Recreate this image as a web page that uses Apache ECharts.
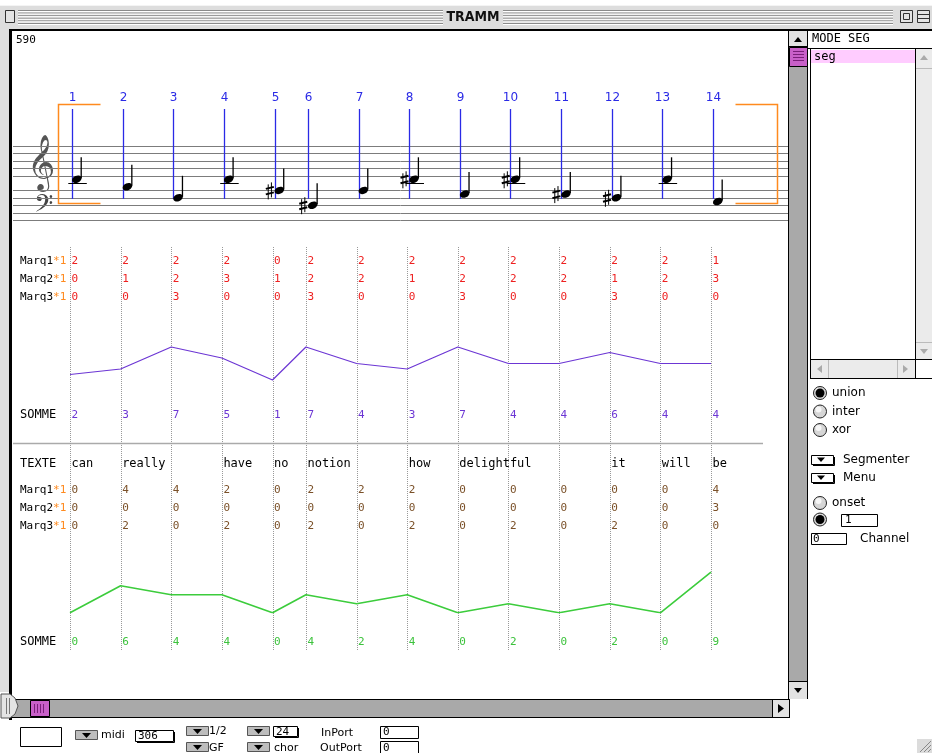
<!DOCTYPE html>
<html><head><meta charset="utf-8">
<script src="https://cdn.jsdelivr.net/npm/echarts/dist/echarts.min.js"></script>
<style>html,body{margin:0;padding:0;background:#fff;overflow:hidden}#c{width:932px;height:753px}</style>
</head><body><div id="c"></div>
<script>
// ================= DATA =================
const columnLabels = ['1','2','3','4','5','6','7','8','9','10','11','12','13','14'];
const onsets = [0, 1, 2, 3, 4, 4.66, 5.66, 6.66, 7.66, 8.66, 9.66, 10.66, 11.66, 12.66];
const noteSteps = [1, -1, -4, 1, -2, -6, -2, 1, -3, 1, -3, -4, 1, -5];
const noteSharps = [0, 0, 0, 0, 1, 1, 0, 1, 0, 1, 1, 1, 0, 0];
const segmentBounds = [-0.24, 13.96];
const marqLabels = ['Marq1', 'Marq2', 'Marq3'];
const marq1Pitch = [2, 2, 2, 2, 0, 2, 2, 2, 2, 2, 2, 2, 2, 1];
const marq2Pitch = [0, 1, 2, 3, 1, 2, 2, 1, 2, 2, 2, 1, 2, 3];
const marq3Pitch = [0, 0, 3, 0, 0, 3, 0, 0, 3, 0, 0, 3, 0, 0];
const sommePitch = [2, 3, 7, 5, 1, 7, 4, 3, 7, 4, 4, 6, 4, 4];
const words = ['can', 'really', '', 'have', 'no', 'notion', '', 'how', 'delightful', '', '', 'it', 'will', 'be'];
const marq1Text = [0, 4, 4, 2, 0, 2, 2, 2, 0, 0, 0, 0, 0, 4];
const marq2Text = [0, 0, 0, 0, 0, 0, 0, 0, 0, 0, 0, 0, 0, 3];
const marq3Text = [0, 2, 0, 2, 0, 2, 0, 2, 0, 2, 0, 2, 0, 0];
const sommeText = [0, 6, 4, 4, 0, 4, 2, 4, 0, 2, 0, 2, 0, 9];

// ================= LAYOUT / STYLE =================
const GL = 13, GW = 775, COL0 = 70, UNIT = 50.63;
const XMIN = -(COL0 - GL) / UNIT, XMAX = XMIN + GW / UNIT;
const MONO = '"DejaVu Sans Mono", "Liberation Mono", monospace';
const SANS = '"DejaVu Sans", "Liberation Sans", sans-serif';
const BLUE = '#2a2ae6', RED = '#ee2020', ORANGE = '#ff8a1e', PURPLE = '#6c36d4',
      BROWN = '#7a5028', GREEN = '#3ccc3c', GREENTXT = '#3cc23c';

const grids = [
  {top: 146, height: 74},      // 0 staff (steps -10..10)
  {top: 330.5, height: 55},    // 1 purple curve
  {top: 567.6, height: 45.2},  // 2 green curve
  {top: 247, height: 403},     // 3 dotted column guides
  {top: 252.5, height: 54},    // 4 Marq rows (pitch)
  {top: 407, height: 16},      // 5 SOMME (pitch)
  {top: 456, height: 16},      // 6 TEXTE
  {top: 480.5, height: 55},    // 7 Marq rows (text)
  {top: 634, height: 16}       // 8 SOMME (text)
].map(g => Object.assign({left: GL, width: GW}, g));

const xAxes = grids.map((g, i) => ({gridIndex: i, type: 'value', min: XMIN, max: XMAX, show: false}));
const hidden = {axisLine: {show: false}, axisTick: {show: false}, splitLine: {show: false}};
function catAxis(gi, data, fontSize, rich) {
  return Object.assign({gridIndex: gi, type: 'category', data, inverse: true, boundaryGap: true,
    axisLabel: {inside: true, margin: 7, color: '#000', fontFamily: MONO, fontSize,
      formatter: rich ? (v => '{n|' + v + '}{o|*1}') : null,
      rich: rich ? {n: {color: '#000', fontFamily: MONO, fontSize}, o: {color: ORANGE, fontFamily: MONO, fontSize}} : undefined}
  }, hidden);
}
const yAxes = [
  {gridIndex: 0, type: 'value', min: -10, max: 10, show: false},
  {gridIndex: 1, type: 'value', min: 0, max: 10, show: false},
  {gridIndex: 2, type: 'value', min: 0, max: 10, show: false},
  {gridIndex: 3, type: 'value', min: 0, max: 1, show: false},
  catAxis(4, marqLabels, 11, true),
  catAxis(5, ['SOMME'], 12, false),
  catAxis(6, ['TEXTE'], 12, false),
  catAxis(7, marqLabels, 11, true),
  catAxis(8, ['SOMME'], 12, false)
];

function textRow(gi, rowIndex, arr, color, font) {
  return {
    type: 'custom', xAxisIndex: gi, yAxisIndex: gi, silent: true, clip: false,
    data: onsets.map(o => [o, rowIndex]),
    renderItem(params, api) {
      const p = api.coord([api.value(0), api.value(1)]);
      return {type: 'text', x: p[0] + 1.5, y: p[1],
        style: {text: String(arr[params.dataIndex]), fill: color, font: font, align: 'left', verticalAlign: 'middle'}};
    }
  };
}

const series = [];
// staff lines
series.push({
  type: 'custom', xAxisIndex: 0, yAxisIndex: 0, silent: true, clip: false,
  data: [10, 8, 6, 4, 2, -2, -4, -6, -8, -10].map(s => [0, s]),
  renderItem(params, api) {
    const cs = params.coordSys;
    const y = Math.round(api.coord([0, api.value(1)])[1]) + 0.5;
    return {type: 'line', shape: {x1: cs.x, y1: y, x2: cs.x + cs.width, y2: y}, style: {stroke: '#7c7c7c', lineWidth: 1}};
  }
});
// segment brackets
series.push({
  type: 'custom', xAxisIndex: 0, yAxisIndex: 0, silent: true, clip: false,
  data: [[segmentBounds[0], segmentBounds[1]]],
  renderItem(params, api) {
    const lx = Math.round(api.coord([api.value(0), 0])[0]) + 0.5;
    const rx = Math.round(api.coord([api.value(1), 0])[0]) + 0.5;
    const ty = Math.round(api.coord([0, 21.4])[1]) + 0.5;
    const by = Math.round(api.coord([0, -5.4])[1]) + 0.5;
    const st = {stroke: ORANGE, lineWidth: 1.5, fill: null};
    return {type: 'group', children: [
      {type: 'polyline', shape: {points: [[lx + 42, ty], [lx, ty], [lx, by], [lx + 42, by]]}, style: st},
      {type: 'polyline', shape: {points: [[rx - 42, ty], [rx, ty], [rx, by], [rx - 42, by]]}, style: st}
    ]};
  }
});
// columns: blue markers, numbers, notes
series.push({
  type: 'custom', xAxisIndex: 0, yAxisIndex: 0, silent: true, clip: false,
  data: onsets.map((o, i) => [o, noteSteps[i]]),
  renderItem(params, api) {
    const i = params.dataIndex;
    const o = api.value(0), stp = api.value(1);
    const base = api.coord([o, stp]);
    const colX = Math.round(base[0] + 2) + 0.5;
    const hx = base[0] + 6.8, hy = base[1];
    const top = api.coord([o, 20])[1], bot = api.coord([o, -4.3])[1], lab = api.coord([o, 23])[1];
    const c0 = Math.round(api.coord([o, 0])[1]) + 0.5;
    const ch = [
      {type: 'line', shape: {x1: colX, y1: top, x2: colX, y2: bot}, style: {stroke: BLUE, lineWidth: 1.3}},
      {type: 'text', x: colX, y: lab, style: {text: columnLabels[i], fill: BLUE, font: '12px ' + SANS, align: 'center', verticalAlign: 'middle'}}
    ];
    if (stp >= 0) ch.push({type: 'line', shape: {x1: hx - 8.5, y1: c0, x2: hx + 10, y2: c0}, style: {stroke: '#000', lineWidth: 1}});
    ch.push({type: 'ellipse', x: hx, y: hy, rotation: 0.4, shape: {cx: 0, cy: 0, rx: 5, ry: 3.5}, style: {fill: '#000'}});
    ch.push({type: 'line', shape: {x1: hx + 4.4, y1: hy - 1, x2: hx + 4.4, y2: hy - 22}, style: {stroke: '#000', lineWidth: 1.3}});
    if (noteSharps[i]) {
      const sx = hx - 9.5;
      const s = {stroke: '#000', lineWidth: 1};
      ch.push({type: 'line', shape: {x1: sx - 1.6, y1: hy - 6, x2: sx - 1.6, y2: hy + 9}, style: s});
      ch.push({type: 'line', shape: {x1: sx + 1.6, y1: hy - 8, x2: sx + 1.6, y2: hy + 7}, style: s});
      ch.push({type: 'line', shape: {x1: sx - 4, y1: hy - 1.5, x2: sx + 4, y2: hy - 3.5}, style: {stroke: '#000', lineWidth: 2}});
      ch.push({type: 'line', shape: {x1: sx - 4, y1: hy + 4, x2: sx + 4, y2: hy + 2}, style: {stroke: '#000', lineWidth: 2}});
    }
    return {type: 'group', children: ch};
  }
});
// dotted column guides
series.push({
  type: 'custom', xAxisIndex: 3, yAxisIndex: 3, silent: true, clip: false,
  data: onsets.map(o => [o, 0]),
  renderItem(params, api) {
    const a = api.coord([api.value(0), 1]), b = api.coord([api.value(0), 0]);
    const x = Math.round(a[0]) + 0.5;
    return {type: 'line', shape: {x1: x, y1: a[1], x2: x, y2: b[1]}, style: {stroke: '#999', lineWidth: 1, lineDash: [1, 1]}};
  }
});
// curves
series.push({type: 'line', xAxisIndex: 1, yAxisIndex: 1, symbol: 'none', silent: true,
  data: onsets.map((o, i) => [o, sommePitch[i]]), lineStyle: {color: PURPLE, width: 1.2}});
series.push({type: 'line', xAxisIndex: 2, yAxisIndex: 2, symbol: 'none', silent: true,
  data: onsets.map((o, i) => [o, sommeText[i]]), lineStyle: {color: GREEN, width: 1.6}});
// text rows
const digitFont = '11px ' + MONO;
series.push(textRow(4, 0, marq1Pitch, RED, digitFont));
series.push(textRow(4, 1, marq2Pitch, RED, digitFont));
series.push(textRow(4, 2, marq3Pitch, RED, digitFont));
series.push(textRow(5, 0, sommePitch, PURPLE, digitFont));
series.push(textRow(6, 0, words, '#000', '12px ' + MONO));
series.push(textRow(7, 0, marq1Text, BROWN, digitFont));
series.push(textRow(7, 1, marq2Text, BROWN, digitFont));
series.push(textRow(7, 2, marq3Text, BROWN, digitFont));
series.push(textRow(8, 0, sommeText, GREENTXT, digitFont));

// ================= WINDOW CHROME (graphic) =================
const G = [];
function R(x, y, w, h, fill, stroke, lw, z) { G.push({type: 'rect', shape: {x, y, width: w, height: h}, style: {fill: fill || 'none', stroke: stroke || null, lineWidth: lw || 1}, silent: true, z: z || 0}); }
function L(x1, y1, x2, y2, c, w) { G.push({type: 'line', shape: {x1, y1, x2, y2}, style: {stroke: c, lineWidth: w || 1}, silent: true}); }
function T(x, y, s, font, fill, align) { G.push({type: 'text', x, y, style: {text: s, font, fill: fill || '#000', align: align || 'left', verticalAlign: 'middle', textAlign: align || 'left', textVerticalAlign: 'middle'}, silent: true}); }
function P(points, fill, stroke) { G.push({type: 'polygon', shape: {points}, style: {fill, stroke: stroke || null, lineWidth: 1}, silent: true}); }
function C(cx, cy, r, fill, stroke) { G.push({type: 'circle', shape: {cx, cy, r}, style: {fill, stroke: stroke || null, lineWidth: 1}, silent: true}); }

// background areas
R(0, 0, 932, 753, '#ffffff');
R(0, 5, 932, 24, '#dddddd');
L(0, 5.5, 932, 5.5, '#f4f4f4');
for (let k = 0; k < 6; k++) {
  const y = 10.5 + k * 2.6;
  L(18, y, 443, y, '#8a8a8a'); L(18, y + 1, 443, y + 1, '#ffffff');
  L(503, y, 893, y, '#8a8a8a'); L(503, y + 1, 893, y + 1, '#ffffff');
}
T(473, 17, 'TRAMM', 'bold 14px "DejaVu Sans Condensed", "Liberation Sans Narrow", ' + SANS, '#111', 'center');
R(5.5, 10.5, 9, 12, '#e4e4e4', '#333');
R(900.5, 10.5, 12, 12, '#e4e4e4', '#333'); R(903.5, 13.5, 6, 6, null, '#333');
R(917.5, 10.5, 12, 12, '#e4e4e4', '#333'); L(918, 14.5, 929, 14.5, '#333'); L(918, 18.5, 929, 18.5, '#333');

R(0, 29, 10, 663, '#dedede');
R(9, 29, 923, 2, '#000');
R(9, 30, 3, 690, '#000');

// vertical scrollbar
R(788, 31, 20, 668, '#a9a9a9');
L(788.5, 31, 788.5, 699, '#000'); L(807.5, 31, 807.5, 699, '#000');
R(789, 31, 18, 15, '#e2e2e2'); L(789, 46.5, 807, 46.5, '#000');
P([[794, 42], [802, 42], [798, 37]], '#000');
R(789.5, 47.5, 18, 19, '#c860c8', '#000');
for (let k = 0; k < 4; k++) L(793, 51.5 + k * 3, 804, 51.5 + k * 3, '#7a207a');
R(789, 682, 18, 17, '#e2e2e2'); L(789, 681.5, 807, 681.5, '#000');
P([[794, 688], [802, 688], [798, 693]], '#000');

// right panel
T(812, 38.5, 'MODE SEG', '12px ' + MONO);
L(808, 48.5, 932, 48.5, '#000');
L(810.5, 48, 810.5, 378, '#000');
R(811, 50, 104, 13, '#ffccff');
T(814, 56.5, 'seg', '12px ' + MONO);
R(915, 49, 17, 311, '#ebebeb'); L(915.5, 49, 915.5, 378, '#000');
L(916, 68.5, 932, 68.5, '#bbb'); L(916, 342.5, 932, 342.5, '#bbb');
P([[920, 60], [928, 60], [924, 55]], '#aaa');
P([[920, 349], [928, 349], [924, 354]], '#aaa');
R(811, 360, 104, 18, '#ebebeb'); L(810, 359.5, 932, 359.5, '#000'); L(810, 378.5, 932, 378.5, '#000');
L(828.5, 360, 828.5, 378, '#bbb'); L(897.5, 360, 897.5, 378, '#bbb');
P([[822, 365], [822, 373], [817, 369]], '#aaa');
P([[903, 365], [903, 373], [908, 369]], '#aaa');
R(916, 360, 16, 18, '#ffffff');

// radios
function radio(y, on) {
  C(820, y, 6.5, '#d6d6d6', '#222');
  C(818.5, y - 2, 3, '#f6f6f6');
  if (on) { C(820, y, 4.5, '#000'); }
}
radio(393, true); T(832, 393, 'union', '12px ' + SANS);
radio(411.5, false); T(832, 411.5, 'inter', '12px ' + SANS);
radio(430, false); T(832, 430, 'xor', '12px ' + SANS);
function popup(x, y, w, h) {
  R(x + 0.5, y + 0.5, w, h, '#fff', '#000');
  L(x + 2, y + h + 1.5, x + w + 1.5, y + h + 1.5, '#000'); L(x + w + 1.5, y + 2, x + w + 1.5, y + h + 1.5, '#000');
  const cx = x + w / 2 - 1, cy = y + h / 2;
  P([[cx - 4, cy - 2], [cx + 4, cy - 2], [cx, cy + 2.5]], '#000');
}
popup(811, 455, 22, 9); T(843, 460, 'Segmenter', '12px ' + SANS);
popup(811, 473, 22, 9); T(843, 478, 'Menu', '12px ' + SANS);
radio(503, false); T(832, 503, 'onset', '12px ' + SANS);
radio(519.5, true);
R(841.5, 514.5, 36, 12, '#fff', '#000'); T(845, 520.5, '1', '11px ' + MONO);
R(811.5, 533.5, 35, 11, '#fff', '#000'); T(813, 539, '0', '11px ' + MONO);
T(860, 539, 'Channel', '12px ' + SANS);

// bottom scrollbar
R(12, 699, 778, 19, '#a9a9a9');
L(12, 699.5, 790, 699.5, '#000'); L(12, 717.5, 790, 717.5, '#000'); L(789.5, 699, 789.5, 718, '#000');
R(30.5, 700.5, 19, 16, '#c860c8', '#000');
for (let k = 0; k < 4; k++) L(34.5 + k * 3, 704, 34.5 + k * 3, 713, '#7a207a');
R(773, 700, 16, 17, '#e2e2e2'); L(772.5, 700, 772.5, 717, '#000');
P([[778, 704], [778, 713], [784, 708.5]], '#000');
P([[1, 694], [10, 694], [15, 698], [18, 706], [15, 714], [10, 718], [1, 718]], '#e4e4e4', '#555');
L(6.5, 698, 6.5, 714, '#777'); L(9.5, 698, 9.5, 714, '#777');

// bottom controls
R(20.5, 727.5, 41, 19, '#fff', '#000');
function gbtn(x, y) {
  R(x + 0.5, y + 0.5, 22, 9, '#bdbdbd', '#555');
  P([[x + 7, y + 3], [x + 16, y + 3], [x + 11.5, y + 8]], '#000');
}
gbtn(75, 730); T(101, 735, 'midi', '11px ' + SANS);
R(135.5, 730.5, 38, 11, '#fff', '#000'); L(137, 742.5, 174.5, 742.5, '#000'); L(174.5, 732, 174.5, 742.5, '#000');
T(138, 736, '306', '11px ' + MONO);
gbtn(186, 726); T(209, 731.5, '1/2', '11px ' + SANS);
gbtn(186, 742); T(209, 748, 'GF', '11px ' + SANS);
gbtn(247, 726);
R(273.5, 726.5, 24, 10, '#fff', '#000'); L(275, 737.5, 298.5, 737.5, '#000'); L(298.5, 728, 298.5, 737.5, '#000');
T(276, 732, '24', '11px ' + MONO);
gbtn(247, 742); T(274, 748, 'chor', '11px ' + SANS);
T(321, 733, 'InPort', '11px ' + SANS);
R(380.5, 726.5, 38, 12, '#fff', '#000'); T(383, 732.5, '0', '11px ' + MONO);
T(320, 748, 'OutPort', '11px ' + SANS);
R(380.5, 741.5, 38, 12, '#fff', '#000'); T(383, 748, '0', '11px ' + MONO);
R(917, 739, 15, 14, '#dcdcdc');
L(920, 752, 931, 741, '#888'); L(924, 752, 931, 745, '#888'); L(928, 752, 931, 749, '#888');

// canvas decorations
T(16, 40.5, '590', '11px ' + MONO);
L(13, 443.5, 763, 443.5, '#aaaaaa', 1.5);
// clefs
T(41, 166, '\u{1D11E}', '48px "DejaVu Sans", "Noto Sans", serif', '#555', 'center');
T(43, 209, '\u{1D122}', '30px "DejaVu Sans", "Noto Sans", serif', '#444', 'center');

const chart = echarts.init(document.getElementById('c'), null, {renderer: 'canvas', width: 932, height: 753});
chart.setOption({
  animation: false,
  backgroundColor: '#fff',
  grid: grids,
  xAxis: xAxes,
  yAxis: yAxes,
  series: series,
  graphic: {elements: G.map(e => Object.assign(e, {z: -10}))}
});
</script>
</body></html>
